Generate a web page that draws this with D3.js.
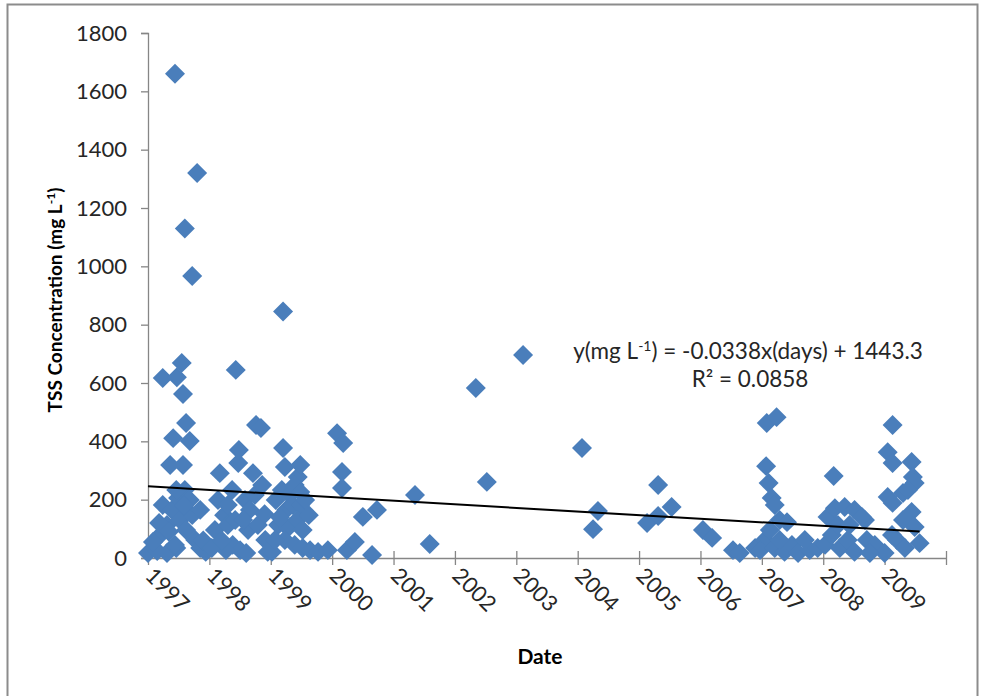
<!DOCTYPE html>
<html>
<head>
<meta charset="utf-8">
<script src="https://cdn.jsdelivr.net/npm/d3@7"></script>
<style>
  html, body { margin: 0; padding: 0; background: #fff; }
  svg { display: block; font-family: Lato, "Open Sans", sans-serif; }
</style>
</head>
<body>
<svg id="chart" width="986" height="696"></svg>
<script>
// Sample dates as decimal years, TSS concentration in mg/L
const sampleYears = [
  1997.00, 1997.15, 1997.31, 1997.46, 1997.20, 1997.31, 1997.24, 1997.39, 1997.49, 1997.60,
  1997.68, 1997.46, 1997.52, 1997.62, 1997.72, 1997.77, 1997.85, 1997.94, 1997.36, 1997.57,
  1997.41, 1997.68, 1997.62, 1997.57, 1997.24, 1997.47, 1997.55, 1997.44, 1997.60, 1997.72,
  1997.80, 1997.85, 1997.44, 1997.08, 1997.18, 1997.34, 1997.58, 1997.90,
  1998.17, 1998.14, 1998.24, 1998.09, 1998.30, 1998.38, 1998.50, 1998.27, 1998.04, 1998.43,
  1998.47, 1998.48, 1998.71, 1998.76, 1998.84, 1998.58, 1998.66, 1998.74, 1998.86, 1998.63,
  1998.79, 1998.91, 1998.60, 1998.95, 1998.42, 1998.30, 1998.37, 1998.20, 1998.55, 1998.90,
  1999.20, 1999.20, 1999.23, 1999.44, 1999.08, 1999.18, 1999.31, 1999.39, 1999.48, 1999.25,
  1999.36, 1999.48, 1999.12, 1999.28, 1999.43, 1999.52, 1999.23, 1999.39, 1999.02, 1999.52,
  1999.64, 1999.77, 1999.93, 1999.07, 1999.56, 1999.62, 1999.48, 1999.15,
  2000.08, 2000.18, 2000.16, 2000.16, 2000.24, 2000.37, 2000.50, 2000.65, 2000.73,
  2001.35, 2001.59,
  2002.34, 2002.52,
  2003.11,
  2004.07, 2004.33, 2004.25,
  2005.13, 2005.31, 2005.31, 2005.53,
  2006.04, 2006.19, 2006.53, 2006.64, 2006.89,
  2007.08, 2007.24, 2007.07, 2007.11, 2007.16, 2007.21, 2007.05, 2007.13, 2007.29, 2007.41,
  2006.97, 2007.21, 2007.37, 2007.49, 2007.59, 2007.70, 2007.78, 2007.91, 2007.29,
  2008.17, 2008.07, 2008.19, 2008.35, 2008.51, 2008.68, 2008.03, 2008.14, 2008.27, 2008.40,
  2008.51, 2008.63, 2008.71, 2008.84, 2009.00, 2008.76, 2008.24, 2008.43,
  2009.13, 2009.05, 2009.13, 2009.44, 2009.46, 2009.49, 2009.05, 2009.13, 2009.30, 2009.38,
  2009.44, 2009.30, 2009.49, 2009.57, 2009.20, 2009.33, 2009.12
];
const tssValues = [
  17, 24, 17, 34, 79, 113, 182, 165, 206, 233,
  199, 233, 130, 96, 147, 62, 34, 21, 319, 319,
  411, 401, 463, 562, 617, 620, 669, 1660, 1130, 967,
  1320, 165, 45, 55, 120, 90, 180, 60,
  291, 199, 147, 96, 113, 45, 27, 27, 34, 645,
  326, 370, 291, 456, 446, 199, 165, 216, 250, 96,
  113, 62, 17, 21, 130, 182, 233, 60, 130, 150,
  845, 377, 312, 278, 199, 233, 216, 250, 226, 165,
  182, 182, 113, 103, 130, 96, 62, 45, 21, 34,
  27, 21, 27, 62, 199, 147, 319, 140,
  428, 394, 295, 240, 27, 55, 141, 10, 165,
  216, 48,
  583, 261,
  696,
  377, 161, 99,
  120, 144, 250, 175,
  96, 69, 27, 17, 34,
  463, 483, 315, 257, 206, 182, 62, 96, 130, 123,
  27, 34, 21, 45, 17, 62, 27, 34, 62,
  281, 141, 171, 175, 165, 130, 45, 79, 34, 62,
  21, 141, 62, 45, 17, 17, 113, 113,
  456, 363, 326, 329, 278, 257, 209, 189, 223, 233,
  158, 130, 106, 51, 62, 34, 79
];

const yTicks = [0, 200, 400, 600, 800, 1000, 1200, 1400, 1600, 1800];
const yearLabels = ["1997", "1998", "1999", "2000", "2001", "2002", "2003",
                    "2004", "2005", "2006", "2007", "2008", "2009"];

// Linear trend fitted on spreadsheet day serials
const trendSlope = -0.0338;
const trendIntercept = 1443.3;

const SERIAL_1997 = 35431;          // day serial of 1 Jan 1997
const DAYS_PER_YEAR = 365.25;
const toSerial = yr => SERIAL_1997 + (yr - 1997) * DAYS_PER_YEAR;

const points = sampleYears.map((yr, i) => ({ x: toSerial(yr), y: tssValues[i] }));

const svg = d3.select("#chart");
const plot = { left: 148, right: 946, top: 33, bottom: 558 };
const axisColor = "#868686";
const blue = "#4a7ebb";
const textColor = "#262626";

// outer chart frame
svg.append("rect")
  .attr("x", 7.5).attr("y", 4.5)
  .attr("width", 970).attr("height", 700)
  .attr("fill", "#fff")
  .attr("stroke", "#8c8c8c").attr("stroke-width", 2);

const xTickVals = d3.range(0, 14).map(k => SERIAL_1997 + k * DAYS_PER_YEAR);
const x = d3.scaleLinear()
  .domain([xTickVals[0], xTickVals[13]])
  .range([plot.left, plot.right]);
const y = d3.scaleLinear().domain([0, 1800]).range([plot.bottom, plot.top]);

// Y axis
const yAxis = svg.append("g")
  .attr("transform", `translate(${plot.left},0)`)
  .call(d3.axisLeft(y).tickValues(yTicks).tickSize(7).tickPadding(14).tickFormat(d3.format("d")));
yAxis.select(".domain").attr("stroke", axisColor).attr("stroke-width", 1.3);
yAxis.selectAll(".tick line").attr("stroke", axisColor).attr("stroke-width", 1.3);
yAxis.selectAll(".tick text")
  .attr("fill", textColor).attr("font-size", 22)
  .attr("font-family", "Lato, sans-serif");

// X axis with cross tick marks
const xAxis = svg.append("g")
  .attr("transform", `translate(0,${plot.bottom})`)
  .call(d3.axisBottom(x).tickValues(xTickVals).tickSize(7).tickSizeOuter(0).tickFormat(""));
xAxis.select(".domain").attr("stroke", axisColor).attr("stroke-width", 1.3);
xAxis.selectAll(".tick line")
  .attr("y1", -7).attr("y2", 7)
  .attr("stroke", axisColor).attr("stroke-width", 1.3);

// rotated year labels
svg.append("g").selectAll("text")
  .data(yearLabels)
  .join("text")
  .attr("transform", (d, i) => `translate(${x(xTickVals[i]) - 4},${plot.bottom + 19}) rotate(45)`)
  .attr("font-size", 22)
  .attr("fill", textColor)
  .text(d => d);

// markers
const diamond = d3.symbol().type(d3.symbolSquare).size(200);
svg.append("g").selectAll("path")
  .data(points)
  .join("path")
  .attr("d", diamond)
  .attr("transform", d => `translate(${x(d.x)},${y(d.y)}) rotate(45)`)
  .attr("fill", blue);

// trend line across the sampled date range
const xExt = d3.extent(points, d => d.x);
svg.append("line")
  .attr("x1", x(xExt[0])).attr("y1", y(trendSlope * xExt[0] + trendIntercept))
  .attr("x2", x(xExt[1])).attr("y2", y(trendSlope * xExt[1] + trendIntercept))
  .attr("stroke", "#000").attr("stroke-width", 2);

// trend equation
const eq = svg.append("text")
  .attr("x", 748).attr("y", 359)
  .attr("text-anchor", "middle")
  .attr("font-size", 22.5).attr("fill", textColor);
eq.append("tspan").text("y(mg L");
eq.append("tspan").attr("baseline-shift", "super").attr("font-size", 14).text("-1");
eq.append("tspan").text(") = -0.0338x(days) + 1443.3");

svg.append("text")
  .attr("x", 750).attr("y", 387)
  .attr("text-anchor", "middle")
  .attr("font-size", 22.5).attr("fill", textColor)
  .text("R² = 0.0858");

// axis titles
svg.append("text")
  .attr("x", 540).attr("y", 664)
  .attr("text-anchor", "middle")
  .attr("font-size", 21).attr("font-weight", "bold").attr("fill", "#000")
  .text("Date");

const yt = svg.append("text")
  .attr("transform", "translate(62,300) rotate(-90)")
  .attr("text-anchor", "middle")
  .attr("font-size", 19).attr("font-weight", "bold").attr("fill", "#000");
yt.append("tspan").text("TSS Concentration (mg L");
yt.append("tspan").attr("baseline-shift", "super").attr("font-size", 12).text("-1");
yt.append("tspan").text(")");
</script>
</body>
</html>
